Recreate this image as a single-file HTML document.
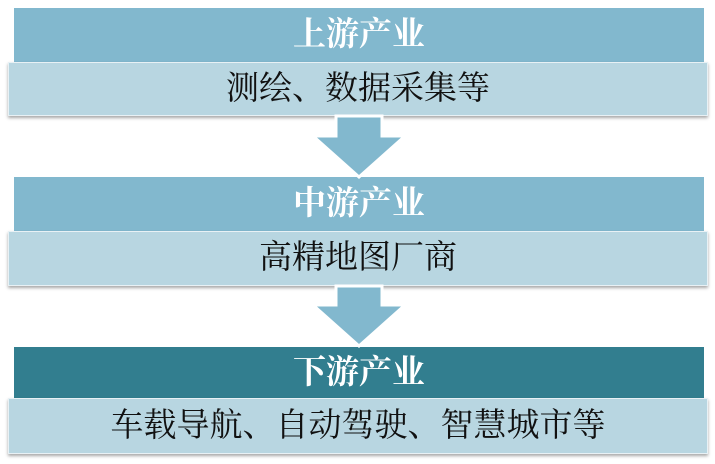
<!DOCTYPE html>
<html><head><meta charset="utf-8"><style>
body{margin:0;width:715px;height:464px;background:#fff;position:relative;overflow:hidden;font-family:"Liberation Serif","Noto Serif CJK SC",serif}
.h{position:absolute;left:14px;width:690px;color:#fff;font-size:33px;font-weight:bold;text-align:center;background:#82b8ce}
.b{position:absolute;left:8px;width:700px;color:#111;font-size:33px;text-align:center;background:#b8d6e1;box-shadow:0 2px 3px rgba(0,0,0,.35);border:1px solid #e8f1f5;box-sizing:border-box}
svg{position:absolute;left:0;top:0}
</style></head><body>
<div class="h" style="top:8px;height:54px;line-height:54px">上游产业</div>
<div class="b" style="top:62px;height:54px;line-height:52px">测绘、数据采集等</div>
<div class="h" style="top:177px;height:54px;line-height:54px">中游产业</div>
<div class="b" style="top:231px;height:55px;line-height:53px">高精地图厂商</div>
<div class="h" style="top:347px;height:52px;line-height:52px;background:#327e8f">下游产业</div>
<div class="b" style="top:398px;height:56px;line-height:54px">车载导航、自动驾驶、智慧城市等</div>
<svg width="715" height="464">
<polygon points="336,116 382,116 382,136 405,136 359,177 313,136 336,136" fill="#82b8ce" stroke="#fff" stroke-width="3"/>
<polygon points="336,286 382,286 382,305 405,305 359,346 313,305 336,305" fill="#82b8ce" stroke="#fff" stroke-width="3"/>
</svg>
</body></html>
